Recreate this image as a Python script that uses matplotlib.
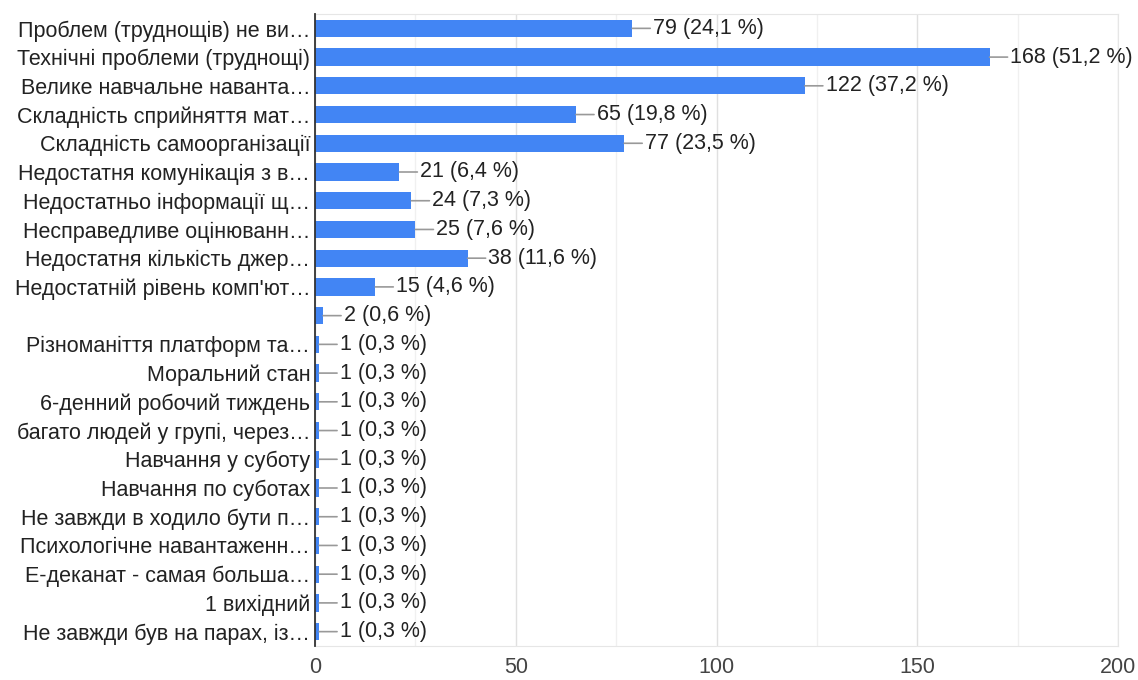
import matplotlib
matplotlib.use("Agg")
import matplotlib.pyplot as plt
from matplotlib.ticker import MultipleLocator

categories = [
    "Проблем (труднощів) не ви…",
    "Технічні проблеми (труднощі)",
    "Велике навчальне наванта…",
    "Складність сприйняття мат…",
    "Складність самоорганізації",
    "Недостатня комунікація з в…",
    "Недостатньо інформації щ…",
    "Несправедливе оцінюванн…",
    "Недостатня кількість джер…",
    "Недостатній рівень комп'ют…",
    "",
    "Різноманіття платформ та…",
    "Моральний стан",
    "6-денний робочий тиждень",
    "багато людей у групі, через…",
    "Навчання у суботу",
    "Навчання по суботах",
    "Не завжди в ходило бути п…",
    "Психологічне навантаженн…",
    "Е-деканат - самая больша…",
    "1 вихідний",
    "Не завжди був на парах, із…",
]
values = [79, 168, 122, 65, 77, 21, 24, 25, 38, 15, 2, 1, 1, 1, 1, 1, 1, 1, 1, 1, 1, 1]
percents = ["24,1", "51,2", "37,2", "19,8", "23,5", "6,4", "7,3", "7,6", "11,6", "4,6",
            "0,6", "0,3", "0,3", "0,3", "0,3", "0,3", "0,3", "0,3", "0,3", "0,3", "0,3", "0,3"]
x_ticks = [0, 50, 100, 150, 200]

plt.rcParams['font.family'] = ['Liberation Sans', 'DejaVu Sans']
FS = 15.5

fig = plt.figure(figsize=(11.38, 6.8), dpi=100)
ax = fig.add_axes([315/1138, 1-646/680, (1118-315)/1138, (646-14)/680])

ypos = list(range(len(categories)))
ax.barh(ypos, values, height=0.6, color="#4285F4", zorder=3)
ax.set_ylim(len(categories)-0.5, -0.5)
ax.set_xlim(0, 200)
ax.set_yticks(ypos)
ax.set_yticklabels(categories, fontsize=FS, color="#222222")
ax.set_xticks(x_ticks)
ax.set_xticklabels([str(t) for t in x_ticks], fontsize=FS, color="#444444")
ax.xaxis.set_minor_locator(MultipleLocator(25))
ax.tick_params(axis='both', which='both', length=0)
ax.tick_params(axis='y', pad=3.5)
ax.tick_params(axis='x', pad=8)
ax.grid(axis='x', which='major', color="#e0e0e0", linewidth=1, zorder=0)
ax.grid(axis='x', which='minor', color="#f0f0f0", linewidth=1, zorder=0)
for side in ['top', 'right', 'bottom']:
    ax.spines[side].set_color("#e6e6e6")
ax.spines['left'].set_color("#333333")
ax.spines['left'].set_linewidth(1.3)
ax.spines['left'].set_zorder(4)

for y, v, p in zip(ypos, values, percents):
    ax.annotate(f"{v} ({p} %)", xy=(v, y), xytext=(15, 0), textcoords='offset points',
                ha='left', va='center', fontsize=FS, color="#222222",
                arrowprops=dict(arrowstyle='-', color="#999999", lw=1.2,
                                shrinkA=0, shrinkB=0, relpos=(0, 0.5)), zorder=5)

fig.savefig("out.png", dpi=100)
